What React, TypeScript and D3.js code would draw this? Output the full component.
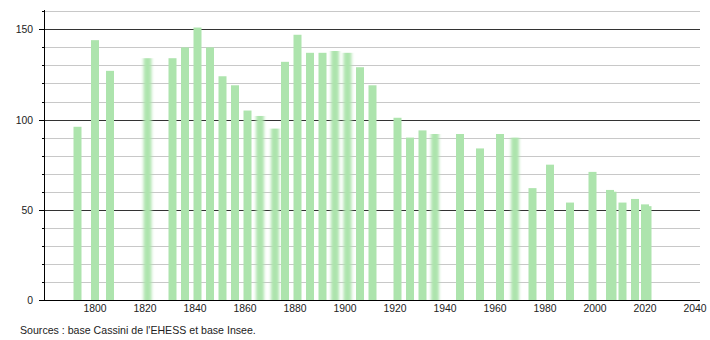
import React from "react";
import * as d3 from "d3";

const years = [1793, 1800, 1806, 1821, 1831, 1836, 1841, 1846, 1851, 1856, 1861, 1866, 1872, 1876, 1881, 1886, 1891, 1896, 1901, 1906, 1911, 1921, 1926, 1931, 1936, 1946, 1954, 1962, 1968, 1975, 1982, 1990, 1999, 2006, 2007, 2011, 2016, 2020, 2021];
const population = [96, 144, 127, 134, 134, 140, 151, 140, 124, 119, 105, 102, 95, 132, 147, 137, 137, 138, 137, 129, 119, 101, 90, 94, 92, 92, 84, 92, 90, 62, 75, 54, 71, 61, 60, 54, 56, 53, 52];
const blurredYears = [1821, 1866, 1872, 1896, 1901, 1936, 1968];
const xTicks = [1800, 1820, 1840, 1860, 1880, 1900, 1920, 1940, 1960, 1980, 2000, 2020, 2040];
const yMajorTicks = [0, 50, 100, 150];
const yMinorTicks = [10, 20, 30, 40, 60, 70, 80, 90, 110, 120, 130, 140, 160];
const sourceText = "Sources : base Cassini de l'EHESS et base Insee.";

const W = 710;
const H = 340;
const left = 44;
const right = 700;
const bottom = 300;

export default function App() {
  const x = d3.scaleLinear().domain([1800, 2040]).range([95, 695]);
  const y = d3.scaleLinear().domain([0, 160]).range([bottom, 11.3]);
  const barW = 8;
  const font = "'Liberation Sans', Arial, sans-serif";
  const data = years.map((yr, i) => ({ yr, v: population[i] }));
  return (
    <svg width={W} height={H} style={{ position: "absolute", left: 0, top: 0, background: "#fff" }} fontFamily={font}>
      <defs>
        <filter id="hblur" x="-50%" y="0%" width="200%" height="100%">
          <feGaussianBlur stdDeviation="1.6 0" />
        </filter>
      </defs>
      <rect width={W} height={H} fill="#fff" />
      {yMinorTicks.map((t) => (
        <g key={"mn" + t}>
          <line x1={left} x2={right} y1={Math.round(y(t)) + 0.5} y2={Math.round(y(t)) + 0.5} stroke="#c8c8c8" strokeWidth={1} />
          <line x1={left - 2} x2={left} y1={Math.round(y(t)) + 0.5} y2={Math.round(y(t)) + 0.5} stroke="#000" strokeWidth={1} />
        </g>
      ))}
      {yMajorTicks.filter((t) => t > 0).map((t) => (
        <line key={"mj" + t} x1={left} x2={right} y1={Math.round(y(t)) + 0.5} y2={Math.round(y(t)) + 0.5} stroke="#333" strokeWidth={1} />
      ))}
      {data.map((d) => (
        <rect
          key={d.yr}
          x={x(d.yr) - barW / 2}
          y={y(d.v)}
          width={barW}
          height={bottom - y(d.v)}
          fill="#ade4ad"
          filter={blurredYears.includes(d.yr) ? "url(#hblur)" : undefined}
        />
      ))}
      <line x1={left + 0.5} x2={left + 0.5} y1={10} y2={bottom} stroke="#000" strokeWidth={1} />
      <line x1={left - 5} x2={right} y1={bottom + 0.5} y2={bottom + 0.5} stroke="#000" strokeWidth={1} />
      {yMajorTicks.map((t) => (
        <g key={"yl" + t}>
          <line x1={left - 5} x2={left} y1={Math.round(y(t)) + 0.5} y2={Math.round(y(t)) + 0.5} stroke="#000" strokeWidth={1} />
          <text x={33} y={y(t) + 4} textAnchor="end" fontSize={10.4} fill="#222">
            {t}
          </text>
        </g>
      ))}
      {xTicks.map((t) => (
        <text key={"xl" + t} x={x(t)} y={312} textAnchor="middle" fontSize={10.4} fill="#222">
          {t}
        </text>
      ))}
      <text x={20} y={334} fontSize={10.6} fill="#222">
        {sourceText}
      </text>
    </svg>
  );
}
